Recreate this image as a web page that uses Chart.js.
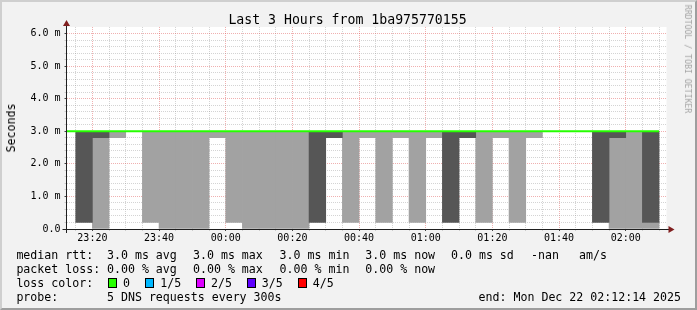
<!DOCTYPE html>
<html><head><meta charset="utf-8">
<script src="https://cdn.jsdelivr.net/npm/chart.js@4/dist/chart.umd.min.js"></script>
<style>
html,body{margin:0;padding:0;background:#f2f2f2;}
#wrap{position:relative;width:697px;height:310px;background:#f2f2f2;overflow:hidden;font-family:'DejaVu Sans Mono',monospace;color:#000;}
#frame{position:absolute;left:0;top:0;width:697px;height:310px;box-sizing:border-box;border:2px solid;border-color:#cfcfcf #9e9e9e #9e9e9e #cfcfcf;}
canvas{position:absolute;left:0;top:0;}
.t{position:absolute;white-space:pre;line-height:14px;font-size:11.6px;font-family:'DejaVu Sans Mono',monospace;}
.sw{position:absolute;width:7px;height:8px;border:1px solid #000;}
</style></head>
<body><div id="wrap"><div id="frame"></div><canvas id="c" width="697" height="310"></canvas></div>
<script>
// ---- data ----
const chartTitle = 'Last 3 Hours from 1ba975770155';
const yAxisTitle = 'Seconds';
const watermark = 'RRDTOOL / TOBI OETIKER';
const viewStart = '23:12:14';
const viewEnd = '02:12:14';
const slotMinutes = 5;
const slotStarts = ['23:15','23:20','23:25','23:30','23:35','23:40','23:45','23:50','23:55',
  '00:00','00:05','00:10','00:15','00:20','00:25','00:30','00:35','00:40','00:45','00:50','00:55',
  '01:00','01:05','01:10','01:15','01:20','01:25','01:30','01:35','01:40','01:45','01:50','01:55',
  '02:00','02:05'];
// smoke bands (ms): dark band and light band, low/high per slot
const darkLow  = [0.2,2.8,null,null,null,null,null,null,null,null,null,null,null,null,0.2,2.8,null,null,null,null,null,null,0.2,2.8,null,null,null,null,null,null,null,0.2,2.8,null,0.2];
const darkHigh = [3.0,3.0,null,null,null,null,null,null,null,null,null,null,null,null,3.0,3.0,null,null,null,null,null,null,3.0,3.0,null,null,null,null,null,null,null,3.0,3.0,null,3.0];
const lightLow  = [null,0,2.8,null,0.2,0,0,0,2.8,0.2,0,0,0,0,null,null,0.2,2.8,0.2,2.8,0.2,2.8,null,null,0.2,2.8,0.2,2.8,null,null,null,null,0,0,0];
const lightHigh = [null,2.8,3.0,null,3.0,3.0,3.0,3.0,3.0,3.0,3.0,3.0,3.0,3.0,null,null,3.0,3.0,3.0,3.0,3.0,3.0,null,null,3.0,3.0,3.0,3.0,null,null,null,null,2.8,3.0,0.2];
// median rtt (ms) per slot
const medianStarts = ['23:10','23:15','23:20','23:25','23:30','23:35','23:40','23:45','23:50','23:55',
  '00:00','00:05','00:10','00:15','00:20','00:25','00:30','00:35','00:40','00:45','00:50','00:55',
  '01:00','01:05','01:10','01:15','01:20','01:25','01:30','01:35','01:40','01:45','01:50','01:55',
  '02:00','02:05','02:10'];
const medianValues = [3.0,3.0,3.0,3.0,3.0,3.0,3.0,3.0,3.0,3.0,3.0,3.0,3.0,3.0,3.0,3.0,3.0,3.0,3.0,3.0,3.0,3.0,3.0,3.0,3.0,3.0,3.0,3.0,3.0,3.0,3.0,3.0,3.0,3.0,3.0,3.0,3.0];
const xTickLabels = ['23:20','23:40','00:00','00:20','00:40','01:00','01:20','01:40','02:00'];
const yTickValues = [0,1,2,3,4,5,6];
const yTickLabels = ['0.0','1.0 m','2.0 m','3.0 m','4.0 m','5.0 m','6.0 m'];
const yMax = 6.2;
// legend
const rttLabel = 'median rtt:';
const rttStats = ['3.0 ms avg','3.0 ms max','3.0 ms min','3.0 ms now','0.0 ms sd','-nan','am/s'];
const lossLabel = 'packet loss:';
const lossStats = ['0.00 % avg','0.00 % max','0.00 % min','0.00 % now'];
const lossColorLabel = 'loss color:';
const lossColorNames = ['0','1/5','2/5','3/5','4/5'];
const lossColors = ['#26ff00','#00b8ff','#dd00ff','#5e00ff','#ff0000'];
const probeLabel = 'probe:';
const probeText = '5 DNS requests every 300s';
const endText = 'end: Mon Dec 22 02:12:14 2025';

// ---- styles ----
const DARK = '#565656', LIGHT = '#a2a2a2', MEDIAN = '#26ff00';
const MINOR = 'rgba(143,143,143,0.38)', MAJOR = 'rgba(222,79,79,0.45)';
const MONO = 'DejaVu Sans Mono';

const toMin = s => { const p = s.split(':').map(Number); let h = p[0]; if (h < 12) h += 24; return (h - 23) * 60 + p[1] + (p[2] || 0) / 60; };
const xMin = toMin(viewStart), xMax = toMin(viewEnd);
const xMajor = xTickLabels.map(toMin);
const near = (a, b) => Math.abs(a - b) < 1e-6;
const isXMajor = v => xMajor.some(m => near(m, v));
const isYMajor = v => yTickValues.some(m => near(m, v));

const barData = (lo, hi) => slotStarts.map((s, i) => ({ x: toMin(s) + slotMinutes / 2, y: lo[i] == null ? null : [lo[i], hi[i]] }));
const medData = medianStarts.map((s, i) => ({ x: toMin(s), y: medianValues[i] }));

const canvasBg = { id: 'canvasBg', beforeDraw(chart) { const { ctx, chartArea: a } = chart; ctx.save(); ctx.fillStyle = '#ffffff'; ctx.fillRect(a.left, a.top, a.right - a.left, a.bottom - a.top); ctx.restore(); } };
const axes = { id: 'axes', afterDraw(chart) {
  const { ctx, chartArea: a } = chart; const yb = Math.floor(a.bottom) + 0.5; const xl = Math.floor(a.left) + 0.5;
  ctx.save(); ctx.strokeStyle = '#1f1f1f'; ctx.lineWidth = 1;
  ctx.beginPath(); ctx.moveTo(a.left - 4, yb); ctx.lineTo(a.right + 3, yb); ctx.stroke();
  ctx.beginPath(); ctx.moveTo(xl, a.bottom + 4); ctx.lineTo(xl, a.top - 3); ctx.stroke();
  ctx.fillStyle = '#801f1f';
  ctx.beginPath(); ctx.moveTo(a.right + 2, yb - 3.5); ctx.lineTo(a.right + 8, yb); ctx.lineTo(a.right + 2, yb + 3.5); ctx.closePath(); ctx.fill();
  ctx.beginPath(); ctx.moveTo(xl - 3.5, a.top - 1); ctx.lineTo(xl, a.top - 7); ctx.lineTo(xl + 3.5, a.top - 1); ctx.closePath(); ctx.fill();
  ctx.restore(); } };

new Chart(document.getElementById('c'), {
  data: { datasets: [
    { type: 'bar', label: 'light', data: barData(lightLow, lightHigh), backgroundColor: LIGHT, order: 3 },
    { type: 'bar', label: 'dark', data: barData(darkLow, darkHigh), backgroundColor: DARK, order: 2 },
    { type: 'line', label: 'median', data: medData, borderColor: MEDIAN, borderWidth: 2, pointRadius: 0, stepped: true, order: 1 }
  ] },
  options: {
    responsive: false, animation: false, devicePixelRatio: 1,
    layout: { padding: { left: 0, right: 30.5, top: 27, bottom: 61 } },
    plugins: { legend: { display: false }, tooltip: { enabled: false }, title: { display: false } },
    datasets: { bar: { grouped: false, barPercentage: 1, categoryPercentage: 1, borderWidth: 0, borderSkipped: false } },
    scales: {
      x: {
        type: 'linear', min: xMin, max: xMax, offset: false, z: 1,
        afterBuildTicks: s => { const t = []; for (let v = Math.ceil(xMin / slotMinutes) * slotMinutes; v <= xMax; v += slotMinutes) t.push({ value: v }); s.ticks = t; },
        afterFit: s => { s.height = 20; },
        ticks: { autoSkip: false, maxRotation: 0, minRotation: 0, padding: 1, color: '#000', font: { family: MONO, size: 10 },
          callback: v => { const i = xMajor.findIndex(m => near(m, v)); return i >= 0 ? xTickLabels[i] : ''; } },
        grid: { offset: false, lineWidth: 1, color: c => (c.tick && isXMajor(c.tick.value)) ? MAJOR : MINOR,
          drawTicks: true, tickLength: 2, tickColor: c => (c.tick && isXMajor(c.tick.value)) ? '#444' : MINOR },
        border: { display: false, dash: [1, 1] }
      },
      y: {
        type: 'linear', min: 0, max: yMax, z: 1,
        afterBuildTicks: s => { const t = []; for (let k = 0; k <= 30; k++) t.push({ value: Math.round(k * 2) / 10 }); s.ticks = t; },
        afterFit: s => { s.width = 66.5; },
        ticks: { autoSkip: false, padding: 4, color: '#000', font: { family: MONO, size: 10 },
          callback: v => { const i = yTickValues.findIndex(m => near(m, v)); return i >= 0 ? yTickLabels[i] : ''; } },
        grid: { lineWidth: 1, color: c => (c.tick && isYMajor(c.tick.value)) ? MAJOR : MINOR,
          drawTicks: true, tickLength: 2, tickColor: c => (c.tick && isYMajor(c.tick.value)) ? '#444' : MINOR },
        border: { display: false, dash: [1, 1] }
      }
    }
  },
  plugins: [canvasBg, axes]
});

// ---- text ----
const wrap = document.getElementById('wrap');
function put(text, x, top, style) { const d = document.createElement('div'); d.className = 't'; d.textContent = text; d.style.left = x + 'px'; d.style.top = top + 'px'; if (style) Object.assign(d.style, style); wrap.appendChild(d); return d; }
put(chartTitle, 347.5, 12, { fontSize: '13.2px', lineHeight: '16px', transform: 'translateX(-50%)' });
put(yAxisTitle, 11, 127.5, { transform: 'translate(-50%,-50%) rotate(-90deg)' });
put(watermark, 688, 59, { fontSize: '8.2px', lineHeight: '10px', color: '#a4a4a4', transform: 'translate(-50%,-50%) rotate(90deg)' });
const rowTop = [247.5, 261.5, 275.5, 289.5];
const statX = [107, 193, 279.6, 365.3, 451, 531, 579];
put(rttLabel, 16.4, rowTop[0]);
rttStats.forEach((s, i) => put(s, statX[i], rowTop[0]));
put(lossLabel, 16.4, rowTop[1]);
lossStats.forEach((s, i) => put(s, statX[i], rowTop[1]));
put(lossColorLabel, 16.4, rowTop[2]);
const swX = [108, 145.3, 196, 246.7, 297.8];
lossColorNames.forEach((n, i) => {
  const b = document.createElement('div'); b.className = 'sw'; b.style.left = swX[i] + 'px'; b.style.top = (rowTop[2] + 2) + 'px'; b.style.background = lossColors[i]; wrap.appendChild(b);
  put(n, swX[i] + 15, rowTop[2]);
});
put(probeLabel, 16.4, rowTop[3]);
put(probeText, statX[0], rowTop[3]);
put(endText, 681, rowTop[3], { transform: 'translateX(-100%)' });
</script></body></html>
